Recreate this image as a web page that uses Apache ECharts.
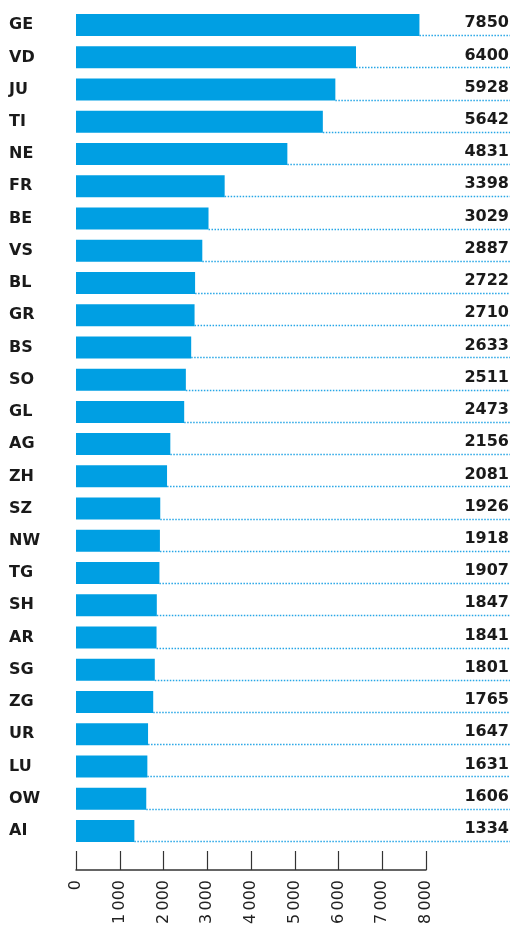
<!DOCTYPE html>
<html><head><meta charset="utf-8">
<script src="https://cdn.jsdelivr.net/npm/echarts@6/dist/echarts.min.js"></script>
<style>html,body{margin:0;padding:0;background:#fff}#c{width:510px;height:929px}</style>
</head><body><div id="c"></div>
<script>
const cantons = ['GE','VD','JU','TI','NE','FR','BE','VS','BL','GR','BS','SO','GL','AG','ZH','SZ','NW','TG','SH','AR','SG','ZG','UR','LU','OW','AI'];
const values = [7850,6400,5928,5642,4831,3398,3029,2887,2722,2710,2633,2511,2473,2156,2081,1926,1918,1907,1847,1841,1801,1765,1647,1631,1606,1334];
const xTicks = [0,1000,2000,3000,4000,5000,6000,7000,8000];

const chart = echarts.init(document.getElementById('c'), null, {renderer:'canvas'});
const BAR_H = 22;
chart.setOption({
  animation:false,
  grid:{left:76, right:84, top:9, bottom:82, containLabel:false},
  xAxis:{type:'value', min:0, max:8000, interval:1000, offset:23,
    axisLine:{show:true, lineStyle:{color:'#333', width:1.5}},
    axisTick:{show:true, inside:true, length:19, lineStyle:{color:'#333', width:1.2}},
    splitLine:{show:false},
    axisLabel:{rotate:90, margin:10, color:'#222', fontFamily:'DejaVu Sans', fontSize:16,
      formatter:v=>{const t=xTicks.find(x=>x===v); return t===0?'0':String(t).replace(/\B(?=(\d{3})+(?!\d))/g,'\u2009');}}
  },
  yAxis:{type:'category', data:cantons, inverse:true,
    axisLine:{show:false}, axisTick:{show:false}, splitLine:{show:false},
    axisLabel:{align:'left', margin:67, color:'#1a1a1a', fontFamily:'DejaVu Sans', fontWeight:'bold', fontSize:16}
  },
  series:[
    {type:'custom', z:1, data:values.map((v,i)=>[v,i]),
      renderItem:(params, api)=>{
        const p = api.coord([api.value(0), api.value(1)]);
        const y = Math.round(p[1] + BAR_H/2) - 0.5;
        const W = api.getWidth();
        return {type:'group', children:[
          {type:'line', shape:{x1:p[0], y1:y, x2:W, y2:y},
            style:{stroke:'#27a6e6', lineWidth:1.5, lineDash:[1.5,1.5]}},
          {type:'text', style:{text:String(api.value(0)), x:W-1, y:p[1]-2, align:'right', verticalAlign:'middle',
            fill:'#1a1a1a', font:'bold 16px "DejaVu Sans"'}}
        ]};
      }
    },
    {type:'bar', z:2, data:values, barWidth:BAR_H, itemStyle:{color:'#009fe3'}}
  ]
});
</script></body></html>
